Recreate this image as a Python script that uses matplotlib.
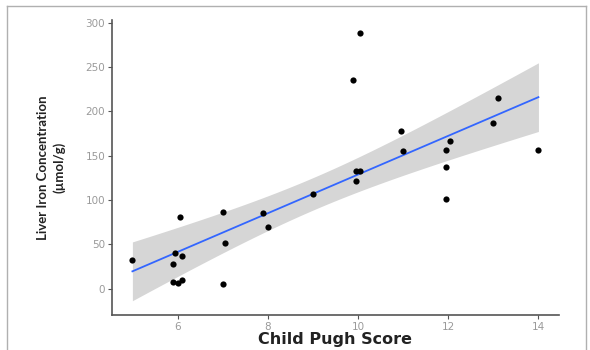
import numpy as np
import matplotlib.pyplot as plt
from matplotlib.lines import Line2D

# Child Pugh score vs liver iron concentration
child_pugh = [5.0, 6.05, 5.95, 6.1, 5.9, 5.9, 6.0, 6.1,
              7.0, 7.05, 7.0, 7.9, 8.0, 9.0,
              10.05, 9.9, 10.95, 11.0, 9.95, 10.05, 9.95,
              11.95, 12.05, 11.95, 11.95, 13.1, 13.0, 14.0]
liver_iron = [32, 81, 40, 37, 28, 8, 6, 10,
              87, 52, 5, 85, 70, 107,
              288, 235, 178, 155, 133, 133, 121,
              156, 166, 137, 101, 215, 187, 156]

x_ticks = [6, 8, 10, 12, 14]
y_ticks = [0, 50, 100, 150, 200, 250, 300]

T_975 = 2.056  # t quantile, df = n - 2 = 26


def fit_band(x, y, grid):
    """Least squares line with 95% confidence band."""
    x = np.asarray(x, float)
    y = np.asarray(y, float)
    n = len(x)
    slope, icept = np.polyfit(x, y, 1)
    resid = y - (slope * x + icept)
    s = np.sqrt(np.sum(resid ** 2) / (n - 2))
    sxx = np.sum((x - x.mean()) ** 2)
    fit = slope * grid + icept
    se = s * np.sqrt(1.0 / n + (grid - x.mean()) ** 2 / sxx)
    return fit, fit - T_975 * se, fit + T_975 * se


grid = np.linspace(min(child_pugh), max(child_pugh), 100)
fit, lo, hi = fit_band(child_pugh, liver_iron, grid)

fig = plt.figure(figsize=(5.9, 3.5), dpi=100)
ax = fig.add_axes([0.190, 0.100, 0.757, 0.843])

ax.fill_between(grid, lo, hi, color='#d6d6d6', lw=0, zorder=1)
ax.plot(grid, fit, color='#3366ff', lw=1.3, zorder=2)
ax.scatter(child_pugh, liver_iron, s=20, color='black', lw=0, zorder=3)

ax.set_xlim(4.55, 14.45)
ax.set_ylim(-29.7, 303)
ax.set_xticks(x_ticks)
ax.set_yticks(y_ticks)
ax.tick_params(colors='#555555', labelcolor='#9a9a9a', labelsize=7.5,
               length=3, width=0.8, pad=2)

for side in ['top', 'right']:
    ax.spines[side].set_visible(False)
for side in ['left', 'bottom']:
    ax.spines[side].set_color('#555555')
    ax.spines[side].set_linewidth(1.2)

ax.set_xlabel('Child Pugh Score', fontsize=11.5, fontweight='bold',
              family='DejaVu Sans', color='#222222', labelpad=0)
ax.set_ylabel('Liver Iron Concentration\n(µmol/g)', fontsize=9.5,
              fontweight='bold', family='Lato', color='#222222',
              labelpad=14, linespacing=1.45)

# thin frame round the picture
frame = dict(color='#b0b0b0', lw=1.0, transform=fig.transFigure)
fig.add_artist(Line2D([0.012, 0.994], [0.983, 0.983], **frame))
fig.add_artist(Line2D([0.012, 0.012], [0.0, 0.983], **frame))
fig.add_artist(Line2D([0.994, 0.994], [0.0, 0.983], **frame))

fig.savefig('out.png', dpi=100)
